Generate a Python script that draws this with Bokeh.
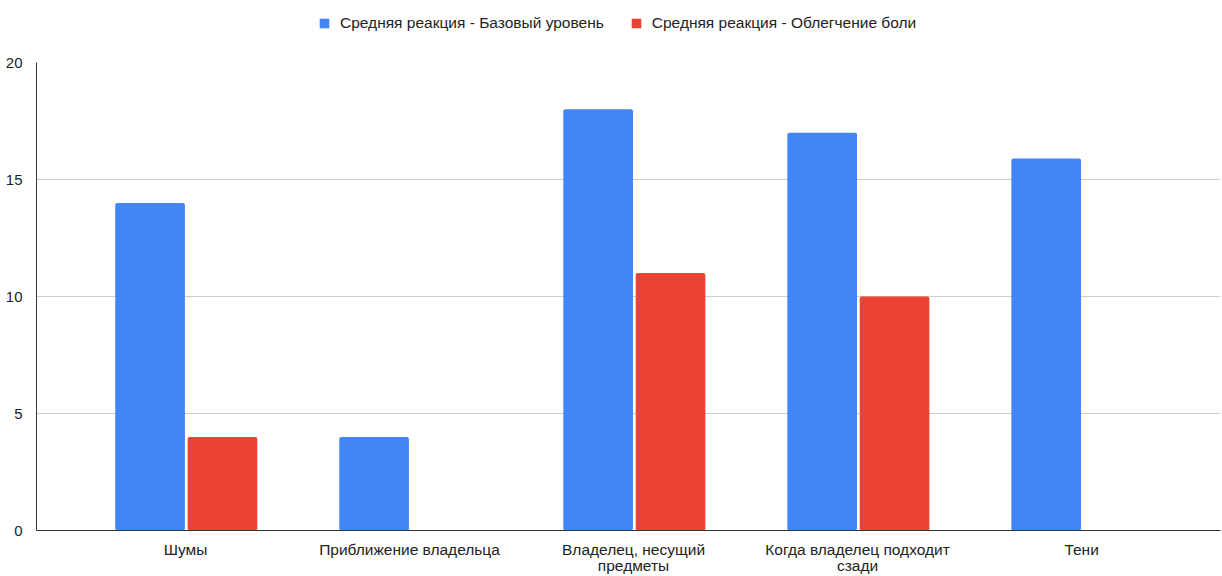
import numpy as np
from bokeh.plotting import figure
from bokeh.layouts import column
from bokeh.models import ColumnDataSource, Range1d, FixedTicker, Legend, LegendItem
from bokeh.embed import file_html
from bokeh.resources import INLINE

categories = ["Шумы", "Приближение владельца", "Владелец, несущий\nпредметы",
              "Когда владелец подходит\nсзади", "Тени"]
series_names = ["Средняя реакция - Базовый уровень", "Средняя реакция - Облегчение боли"]
series_colors = ["#4285F4", "#EA4335"]
baseline = [14, 4, 18, 17, 15.9]
relief = [4, 0, 11, 10, 0]
y_ticks = [0, 5, 10, 15, 20]

FONT = "Liberation Sans"
idx = np.arange(len(categories))

# legend strip (swatch renderers sit outside the visible range; only their legend entries show)
lg = figure(width=1222, height=44, output_backend="svg", toolbar_location=None,
            x_range=Range1d(0, 1), y_range=Range1d(0, 1), min_border=0)
lg.axis.visible = False
lg.grid.grid_line_color = None
lg.outline_line_color = None
swatch_src = ColumnDataSource(dict(x=[0.5], bottom=[-3], top=[-2]))
dummies = [lg.vbar(x="x", bottom="bottom", top="top", width=0.1, source=swatch_src,
                   fill_color=c, line_color=None)
           for c in series_colors]
legend = Legend(items=[LegendItem(label=n, renderers=[r]) for n, r in zip(series_names, dummies)],
                orientation="horizontal", location=(282, 12),
                label_text_font=FONT, label_text_font_size="15.5px",
                label_text_color="#222222", glyph_width=12, glyph_height=12,
                spacing=26, label_standoff=10, border_line_color=None,
                background_fill_alpha=0, margin=0, padding=0)
lg.add_layout(legend, "center")

p = figure(width=1222, height=532, output_backend="svg", toolbar_location=None,
           x_range=Range1d(-0.665, 4.62), y_range=Range1d(0, 20),
           min_border_left=36, min_border_right=2, min_border_top=18, min_border_bottom=36)
p.outline_line_color = None
p.background_fill_color = "white"
p.border_fill_color = "white"

src = ColumnDataSource(dict(xb=idx - 0.158, xr=idx + 0.165, base=baseline, rel=relief))
p.vbar(x="xb", top="base", width=0.311, source=src, fill_color=series_colors[0],
       line_color=None, border_radius=2)
p.vbar(x="xr", top="rel", width=0.311, source=src, fill_color=series_colors[1],
       line_color=None, border_radius=2)

p.xgrid.grid_line_color = None
p.ygrid.grid_line_color = "#cccccc"
p.ygrid.ticker = FixedTicker(ticks=y_ticks)

p.yaxis.ticker = FixedTicker(ticks=y_ticks)
p.yaxis.axis_line_color = "#333333"
p.yaxis.major_tick_line_color = None
p.yaxis.minor_tick_line_color = None
p.yaxis.major_label_text_font = FONT
p.yaxis.major_label_text_font_size = "15px"
p.yaxis.major_label_text_color = "#222222"
p.yaxis.major_label_standoff = 8

p.xaxis.ticker = FixedTicker(ticks=list(idx))
p.xaxis.major_label_overrides = {int(i): c for i, c in zip(idx, categories)}
p.xaxis.axis_line_color = "#333333"
p.xaxis.major_tick_line_color = None
p.xaxis.minor_tick_line_color = None
p.xaxis.major_label_text_font = FONT
p.xaxis.major_label_text_font_size = "15.5px"
p.xaxis.major_label_text_color = "#222222"
p.xaxis.major_label_text_line_height = 0.95
p.xaxis.major_label_standoff = 4

layout = column(lg, p, spacing=0)
open("out.html", "w").write(file_html(layout, INLINE))
